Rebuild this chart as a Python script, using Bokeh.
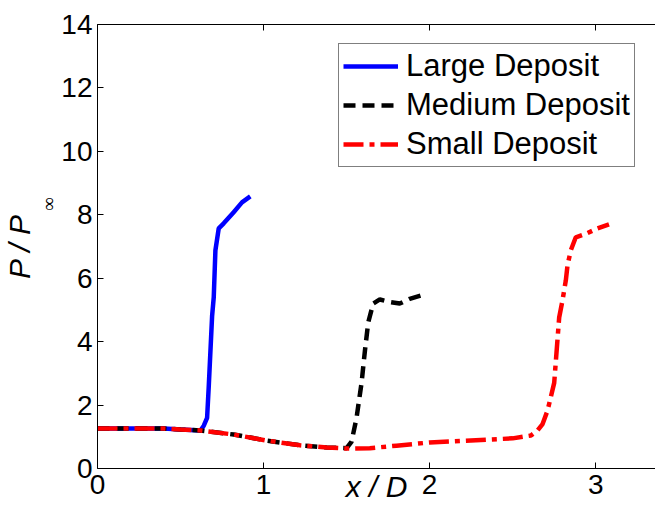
from bokeh.plotting import figure
from bokeh.models import (Range1d, LinearAxis, FixedTicker, Legend, LegendItem, Title,
                          CustomLabelingPolicy)
from bokeh.embed import file_html
from bokeh.resources import INLINE

# ---- data ----
large_x = [0.00, 0.20, 0.40, 0.50, 0.62, 0.64, 0.66, 0.67, 0.69, 0.70, 0.71, 0.73, 0.76, 0.82, 0.87, 0.92]
large_y = [1.26, 1.26, 1.26, 1.23, 1.20, 1.35, 1.60, 2.60, 4.80, 5.40, 6.88, 7.57, 7.73, 8.08, 8.39, 8.58]

medium_x = [0.00, 0.20, 0.40, 0.50, 0.62, 0.82, 1.02, 1.22, 1.38, 1.50, 1.53, 1.56, 1.59, 1.61, 1.63, 1.66, 1.70, 1.76, 1.82, 1.88, 1.97]
medium_y = [1.26, 1.26, 1.26, 1.23, 1.20, 1.07, 0.88, 0.73, 0.66, 0.64, 0.85, 1.60, 2.70, 3.70, 4.60, 5.20, 5.33, 5.25, 5.20, 5.35, 5.49]

small_x = [0.00, 0.20, 0.40, 0.50, 0.62, 0.82, 1.02, 1.22, 1.38, 1.50, 1.64, 1.80, 2.00, 2.20, 2.35, 2.50, 2.61, 2.65, 2.68, 2.71, 2.75, 2.78, 2.80, 2.82, 2.83, 2.85, 2.88, 2.94, 3.01, 3.08]
small_y = [1.26, 1.26, 1.26, 1.23, 1.20, 1.07, 0.88, 0.73, 0.66, 0.63, 0.64, 0.72, 0.82, 0.87, 0.91, 0.95, 1.04, 1.20, 1.40, 1.83, 2.70, 4.76, 5.30, 5.93, 6.40, 6.88, 7.29, 7.40, 7.57, 7.70]

series_names = ["Large Deposit", "Medium Deposit", "Small Deposit"]
x_ticks = [0, 1, 2, 3]
y_ticks = [0, 2, 4, 6, 8, 10, 12, 14]

FONT = "Liberation Sans"

p = figure(width=655, height=508, output_backend="svg", toolbar_location=None,
           x_range=Range1d(0, 3.36), y_range=Range1d(0, 14),
           min_border_left=97, min_border_right=0, min_border_top=24, min_border_bottom=40,
           x_axis_location=None, y_axis_location=None)
p.outline_line_color = None
p.xgrid.visible = False
p.ygrid.visible = False
p.background_fill_color = "white"
p.border_fill_color = "white"


def style_axis(ax, ticks, standoff, show_labels=True):
    ax.ticker = FixedTicker(ticks=ticks)
    ax.major_tick_in = 6
    ax.major_tick_out = 0
    ax.minor_tick_in = 0
    ax.minor_tick_out = 0
    ax.axis_line_color = "black"
    ax.axis_line_width = 1
    ax.major_tick_line_color = "black"
    ax.major_label_text_font = FONT
    ax.major_label_text_font_size = "28px" if show_labels else "0px"
    ax.major_label_text_color = "black"
    ax.major_label_standoff = standoff if show_labels else 0
    if not show_labels:
        ax.major_label_policy = CustomLabelingPolicy(code="return new Set()")


yax = LinearAxis()
style_axis(yax, y_ticks, 5)
p.add_layout(yax, "left")

# y label: subscript infinity (inner) and "P / P" (outer)
p.add_layout(Title(text="\u221e", text_font="Liberation Serif", text_font_size="19px",
                   text_font_style="normal", text_color="black", align="right",
                   offset=173, standoff=0), "left")
p.add_layout(Title(text="P / P", text_font=FONT, text_font_size="30px",
                   text_font_style="italic", text_color="black", align="center",
                   offset=0, standoff=0), "left")

xax = LinearAxis()
style_axis(xax, x_ticks, 6)
xax.axis_label = "x / D"
xax.axis_label_text_font = FONT
xax.axis_label_text_font_size = "30px"
xax.axis_label_text_font_style = "italic"
xax.axis_label_text_color = "black"
xax.axis_label_text_line_height = 0.8
xax.axis_label_standoff = -27
p.add_layout(xax, "below")

xtop = LinearAxis()
style_axis(xtop, x_ticks, 0, show_labels=False)
p.add_layout(xtop, "above")

r_large = p.line(large_x, large_y, line_color="#0000ff", line_width=4.5)
r_medium = p.line(medium_x, medium_y, line_color="black", line_width=4.5, line_dash="12 7")
r_small = p.line(small_x, small_y, line_color="#ff0000", line_width=4.5, line_dash="20 6 5 6")

legend = Legend(items=[LegendItem(label=series_names[0], renderers=[r_large]),
                       LegendItem(label=series_names[1], renderers=[r_medium]),
                       LegendItem(label=series_names[2], renderers=[r_small])],
                location=(241, 301))
legend.label_text_font = FONT
legend.label_text_font_size = "31px"
legend.label_text_color = "black"
legend.glyph_width = 55
legend.glyph_height = 32
legend.label_height = 32
legend.label_standoff = 8
legend.padding = 4
legend.spacing = 3
legend.margin = 0
legend.border_line_color = "black"
legend.border_line_width = 1
legend.background_fill_color = "white"
legend.background_fill_alpha = 1
p.add_layout(legend)

open("out.html", "w").write(file_html(p, INLINE))
